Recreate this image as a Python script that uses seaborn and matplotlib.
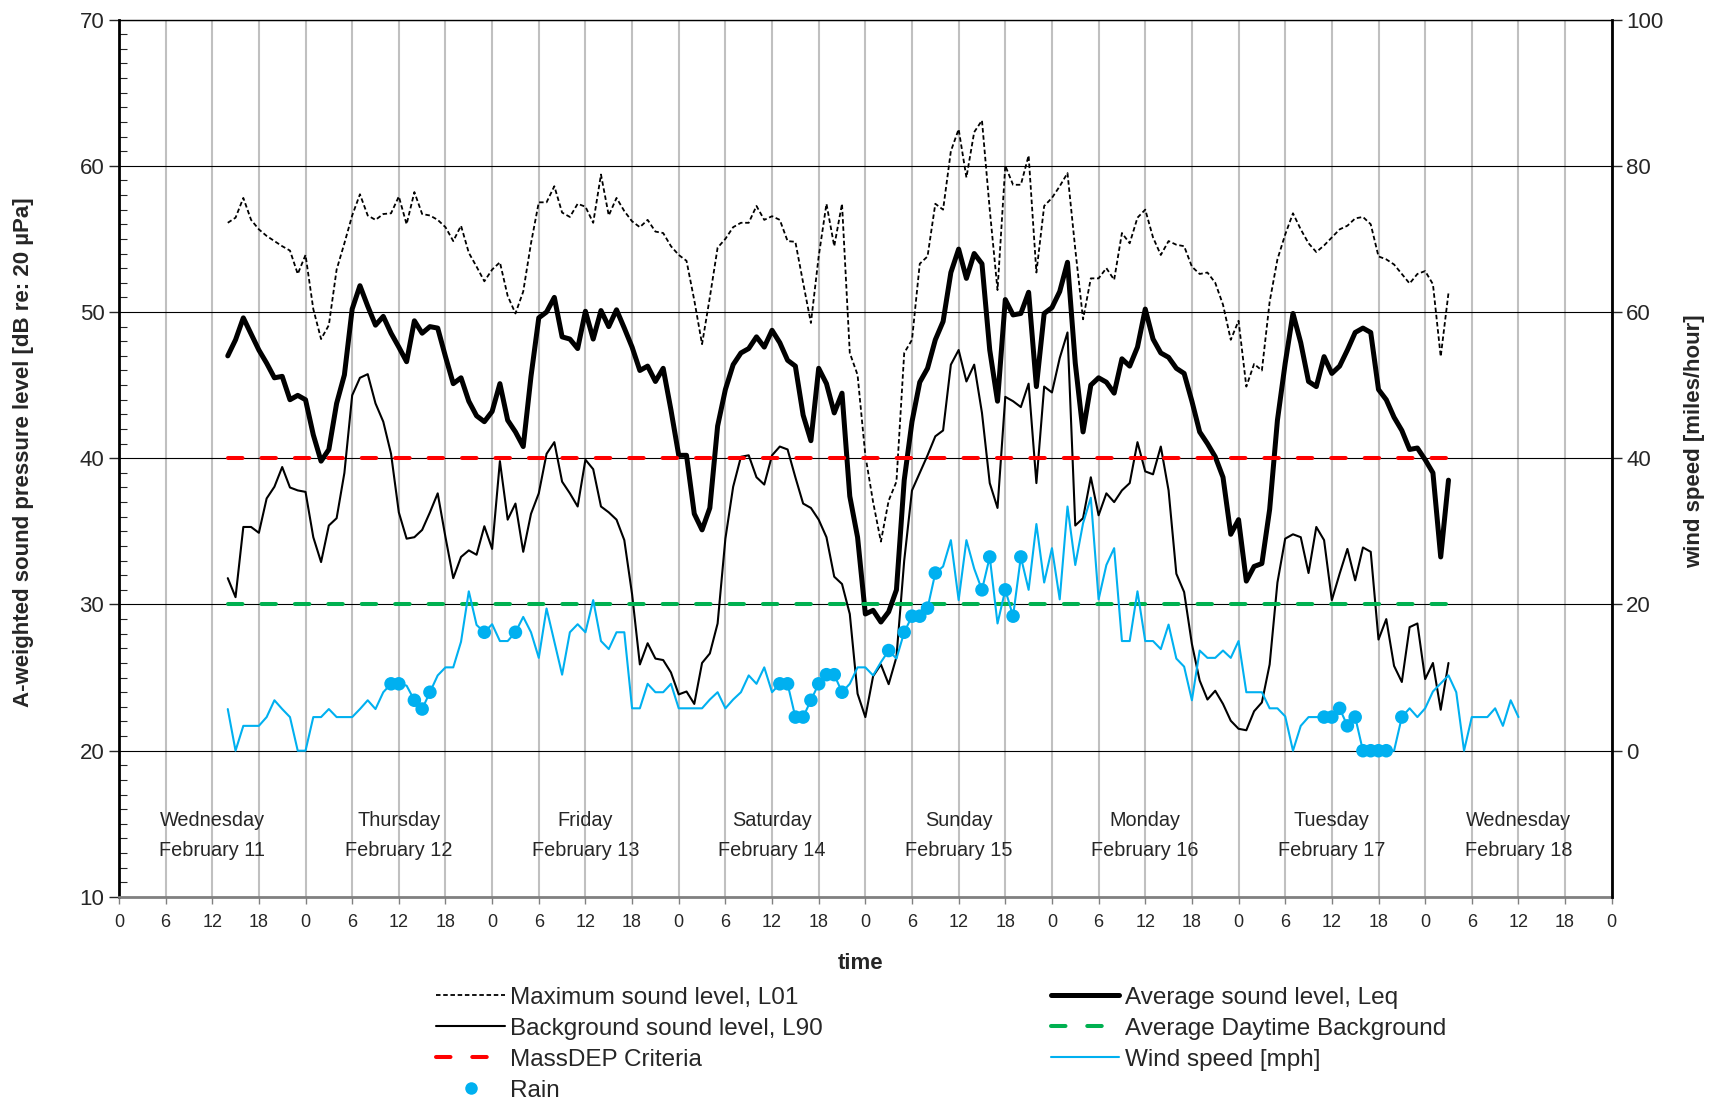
import numpy as np
import pandas as pd
import seaborn as sns
import matplotlib.pyplot as plt
from matplotlib.lines import Line2D
from matplotlib.ticker import MultipleLocator

# hour 0 = Wednesday February 11, 00:00 ; one value per hour
first_hour = 14

# Maximum sound level L01 [dBA]
l01 = [56.1, 56.45, 57.8, 56.3, 55.65, 55.2, 54.85, 54.5, 54.2, 52.6, 53.9, 50.2, 48.15, 49.1, 52.9, 54.7,
       56.6, 58.05, 56.6, 56.3, 56.7, 56.75, 57.9, 56.0, 58.2, 56.7, 56.6, 56.3, 55.8, 54.85, 55.9, 54.05,
       53.1, 52.1, 52.9, 53.4, 51.1, 49.9, 51.4, 54.7, 57.5, 57.5, 58.6, 56.8, 56.5, 57.4, 57.2, 56.1,
       59.4, 56.6, 57.8, 56.9, 56.2, 55.8, 56.3, 55.5, 55.4, 54.5, 53.9, 53.5, 50.8, 47.8, 51.0, 54.4,
       55.0, 55.8, 56.1, 56.1, 57.25, 56.3, 56.55, 56.3, 54.85, 54.8, 52.0, 49.25, 53.8, 57.4, 54.5, 57.4,
       47.2, 45.7, 40.2, 37.0, 34.3, 37.1, 38.4, 47.2, 48.1, 53.3, 53.8, 57.4, 57.0, 61.0, 62.5, 59.2,
       62.3, 63.1, 57.0, 51.5, 60.0, 58.7, 58.7, 60.7, 52.7, 57.25, 57.8, 58.6, 59.5, 54.3, 49.5, 52.3,
       52.3, 53.0, 52.2, 55.4, 54.7, 56.45, 57.0, 55.1, 53.9, 54.85, 54.6, 54.5, 53.1, 52.6, 52.7, 52.0,
       50.5, 48.1, 49.4, 44.9, 46.45, 46.0, 50.7, 53.6, 55.3, 56.75, 55.65, 54.7, 54.1, 54.55, 55.1, 55.65,
       55.9, 56.4, 56.5, 56.0, 53.8, 53.6, 53.25, 52.6, 51.95, 52.6, 52.8, 51.9, 46.95, 51.3]

# Average sound level Leq [dBA]
leq = [47.0, 48.1, 49.6, 48.5, 47.4, 46.5, 45.5, 45.6, 44.0, 44.3, 44.0, 41.6, 39.8, 40.6, 43.75, 45.7,
       50.2, 51.8, 50.4, 49.1, 49.7, 48.55, 47.6, 46.6, 49.4, 48.55, 49.0, 48.9, 46.95, 45.1, 45.5, 43.9,
       42.9, 42.5, 43.2, 45.1, 42.6, 41.8, 40.8, 45.6, 49.6, 50.0, 51.0, 48.3, 48.15, 47.5, 50.05, 48.15,
       50.1, 49.0, 50.15, 48.9, 47.6, 46.0, 46.3, 45.25, 46.15, 43.3, 40.2, 40.2, 36.2, 35.1, 36.6, 42.2,
       44.7, 46.4, 47.2, 47.5, 48.3, 47.6, 48.75, 47.9, 46.7, 46.3, 42.95, 41.2, 46.15, 45.1, 43.1, 44.45,
       37.4, 34.6, 29.35, 29.6, 28.8, 29.5, 31.0, 38.5, 42.5, 45.2, 46.15, 48.1, 49.35, 52.7, 54.3, 52.3,
       54.0, 53.3, 47.4, 43.9, 50.85, 49.8, 49.9, 51.35, 44.9, 49.9, 50.3, 51.4, 53.4, 46.5, 41.8, 45.0,
       45.5, 45.2, 44.45, 46.8, 46.3, 47.6, 50.2, 48.15, 47.2, 46.9, 46.15, 45.8, 43.9, 41.8, 41.0, 40.1,
       38.7, 34.8, 35.8, 31.6, 32.6, 32.8, 36.5, 42.6, 46.5, 49.9, 47.9, 45.25, 44.9, 46.95, 45.8, 46.3,
       47.4, 48.6, 48.9, 48.6, 44.7, 44.0, 42.8, 41.9, 40.6, 40.7, 39.9, 39.0, 33.25, 38.5]

# Background sound level L90 [dBA]
l90 = [31.8, 30.5, 35.3, 35.3, 34.9, 37.25, 38.05, 39.4, 38.0, 37.8, 37.7, 34.6, 32.9, 35.4, 35.9, 39.0,
       44.3, 45.5, 45.75, 43.75, 42.5, 40.3, 36.3, 34.5, 34.6, 35.1, 36.3, 37.6, 34.6, 31.8, 33.25, 33.7,
       33.4, 35.35, 33.8, 39.8, 35.8, 36.9, 33.6, 36.2, 37.6, 40.3, 41.1, 38.4, 37.6, 36.7, 39.9, 39.25,
       36.7, 36.3, 35.8, 34.4, 30.7, 25.9, 27.35, 26.3, 26.2, 25.35, 23.85, 24.05, 23.2, 26.0, 26.65, 28.7,
       34.5, 38.05, 40.1, 40.2, 38.7, 38.2, 40.2, 40.8, 40.6, 38.7, 36.9, 36.6, 35.8, 34.6, 31.9, 31.4,
       29.35, 23.9, 22.3, 25.1, 25.9, 24.55, 26.4, 33.0, 37.8, 39.0, 40.2, 41.5, 41.9, 46.4, 47.4, 45.25,
       46.4, 43.1, 38.3, 36.6, 44.2, 43.9, 43.5, 45.1, 38.3, 44.9, 44.5, 46.85, 48.6, 35.4, 35.9, 38.7,
       36.1, 37.6, 37.0, 37.8, 38.3, 41.1, 39.1, 38.9, 40.8, 37.8, 32.1, 30.85, 27.3, 24.8, 23.5, 24.1,
       23.2, 22.05, 21.5, 21.4, 22.7, 23.3, 25.9, 31.5, 34.5, 34.8, 34.6, 32.15, 35.3, 34.4, 30.3, 32.1,
       33.8, 31.65, 33.9, 33.6, 27.6, 29.0, 25.8, 24.7, 28.45, 28.7, 24.9, 26.0, 22.8, 26.0]

# Wind speed [mph], hours 14 .. 180
wind_mph = [5.7, 0, 3.4, 3.4, 3.4, 4.6, 6.9, 5.7, 4.6, 0, 0, 4.6, 4.6, 5.7, 4.6, 4.6,
            4.6, 5.7, 6.9, 5.7, 8.0, 9.15, 9.15, 8.9, 6.9, 5.7, 8.0, 10.3, 11.4, 11.4, 14.9, 21.8,
            17.2, 16.2, 17.3, 15.0, 15.0, 16.2, 18.3, 16.2, 12.7, 19.45, 14.9, 10.4, 16.2, 17.3, 16.2, 20.6,
            15.0, 13.9, 16.2, 16.2, 5.8, 5.8, 9.15, 8.0, 8.0, 9.15, 5.8, 5.8, 5.8, 5.8, 7.0, 8.0,
            5.8, 7.0, 8.0, 10.3, 9.15, 11.4, 8.0, 9.15, 9.15, 4.6, 4.6, 6.9, 9.15, 10.4, 10.4, 8.0,
            9.15, 11.4, 11.4, 10.3, 12.1, 13.7, 12.6, 16.2, 18.4, 18.4, 19.5, 24.3, 25.2, 28.8, 20.6, 28.8,
            24.9, 22.0, 26.5, 17.4, 22.0, 18.4, 26.5, 22.0, 31.0, 23.0, 27.7, 20.7, 33.4, 25.4, 31.1, 34.6,
            20.7, 25.4, 27.7, 15.0, 15.0, 21.8, 15.0, 15.0, 13.9, 17.25, 12.6, 11.5, 6.9, 13.7, 12.7, 12.7,
            13.7, 12.7, 15.0, 8.0, 8.0, 8.0, 5.8, 5.8, 4.7, 0, 3.4, 4.6, 4.6, 4.6, 4.6, 5.8,
            3.4, 4.6, 0, 0, 0, 0, 0, 4.6, 5.8, 4.6, 5.8, 8.1, 9.2, 10.3, 8.0, 0,
            4.6, 4.6, 4.6, 5.8, 3.4, 6.9, 4.6]

# hours with rain
rain_hours = [35, 36, 38, 39, 40, 47, 51, 85, 86, 87, 88, 89, 90, 91, 92, 93,
              99, 101, 102, 103, 104, 105, 111, 112, 114, 115, 116,
              155, 156, 157, 158, 159, 160, 161, 162, 163, 165]

massdep_criteria = 40
daytime_background = 30

day_names = ['Wednesday', 'Thursday', 'Friday', 'Saturday', 'Sunday', 'Monday', 'Tuesday', 'Wednesday']
day_dates = ['February 11', 'February 12', 'February 13', 'February 14',
             'February 15', 'February 16', 'February 17', 'February 18']

sound = pd.DataFrame({'hour': np.arange(first_hour, first_hour + len(leq)),
                      'L01': l01, 'Leq': leq, 'L90': l90})
sound['criteria'] = massdep_criteria
sound['daytime_bg'] = daytime_background
weather = pd.DataFrame({'hour': np.arange(first_hour, first_hour + len(wind_mph)), 'wind': wind_mph})
rain = weather[weather['hour'].isin(rain_hours)]

sns.set_style('white')
plt.rcParams['font.family'] = ['Liberation Sans', 'DejaVu Sans']

RED = '#ff0000'
GREEN = '#00b050'
BLUE = '#00b0f0'
l01_dash = (0, (2.5, 1.5))
crit_dash = (0, (3.6, 4.7))

fig = plt.figure(figsize=(17.11, 11.03), dpi=100)
ax = fig.add_axes([0.0695, 0.1868, 0.8725, 0.7955])
ax2 = ax.twinx()

sns.lineplot(data=sound, x='hour', y='L01', ax=ax, color='black', lw=1.3, linestyle=l01_dash)
sns.lineplot(data=sound, x='hour', y='L90', ax=ax, color='black', lw=1.5)
sns.lineplot(data=sound, x='hour', y='Leq', ax=ax, color='black', lw=3.6)
sns.lineplot(data=sound, x='hour', y='criteria', ax=ax, color=RED, lw=2.9,
             linestyle=crit_dash, dash_capstyle='round')
sns.lineplot(data=sound, x='hour', y='daytime_bg', ax=ax, color=GREEN, lw=2.9,
             linestyle=crit_dash, dash_capstyle='round')
sns.lineplot(data=weather, x='hour', y='wind', ax=ax2, color=BLUE, lw=1.5)
sns.scatterplot(data=rain, x='hour', y='wind', ax=ax2, color=BLUE, s=95, edgecolor='none', zorder=5)

# axes limits / ticks
ax.set_xlim(0, 192)
ax.set_ylim(10, 70)
ax2.set_ylim(-20, 100)
ax.set_xticks(np.arange(0, 193, 6))
ax.set_xticklabels([str(h % 24) for h in range(0, 193, 6)], fontsize=13)
ax.set_yticks(np.arange(10, 71, 10))
ax.tick_params(axis='y', labelsize=16, left=True, length=7, width=1, direction='out')
ax.yaxis.set_minor_locator(MultipleLocator(1))
ax.tick_params(axis='y', which='minor', left=True, length=6, width=0.8, direction='in')
ax.tick_params(axis='x', bottom=True, length=5, width=1, color='#808080', pad=7)
ax2.set_yticks(np.arange(0, 101, 20))
ax2.tick_params(axis='y', labelsize=16, right=True, length=7, width=1, direction='out')
ax.set_xlabel('')
ax.set_ylabel('')
ax2.set_ylabel('')

ax.set_axisbelow(True)
ax.grid(axis='x', color='#c0c0c0', lw=1.5)
ax.grid(axis='y', color='black', lw=0.8)

for s in ['left', 'top', 'right']:
    ax.spines[s].set_color('black')
ax.spines['left'].set_linewidth(2)
ax.spines['top'].set_linewidth(1)
ax.spines['bottom'].set_color('#808080')
ax.spines['bottom'].set_linewidth(2)
ax2.spines['right'].set_linewidth(2)
ax2.spines['right'].set_color('black')
for s in ['left', 'top', 'bottom']:
    ax2.spines[s].set_visible(False)

for i, (name, date) in enumerate(zip(day_names, day_dates)):
    ax.text(12 + 24 * i, 15.25, name, ha='center', va='center', fontsize=14.3)
    ax.text(12 + 24 * i, 13.15, date, ha='center', va='center', fontsize=14.3)

fig.text(0.0135, 0.59, 'A-weighted sound pressure level [dB re: 20 µPa]', rotation=90,
         ha='center', va='center', fontsize=16, fontweight='bold')
fig.text(0.9904, 0.60, 'wind speed [miles/hour]', rotation=90,
         ha='center', va='center', fontsize=16, fontweight='bold')
fig.text(0.503, 0.1265, 'time', ha='center', va='center', fontsize=16, fontweight='bold')

# legend, two columns
left_handles = [
    Line2D([], [], color='black', lw=1.3, linestyle=l01_dash),
    Line2D([], [], color='black', lw=1.5),
    Line2D([], [], color=RED, lw=2.9, linestyle=(0, (3.6, 5.4)), dash_capstyle='round'),
    Line2D([], [], color=BLUE, marker='o', markersize=9, markeredgewidth=0, linestyle='None'),
]
left_labels = ['Maximum sound level, L01', 'Background sound level, L90', 'MassDEP Criteria', 'Rain']
right_handles = [
    Line2D([], [], color='black', lw=3.6),
    Line2D([], [], color=GREEN, lw=2.9, linestyle=(0, (3.6, 5.4)), dash_capstyle='round'),
    Line2D([], [], color=BLUE, lw=1.5),
]
right_labels = ['Average sound level, Leq', 'Average Daytime Background', 'Wind speed [mph]']
leg_kw = dict(loc='upper left', frameon=False, fontsize=17.5, handlelength=2.8, handletextpad=0.23,
              labelspacing=0.37, borderpad=0, borderaxespad=0)
fig.legend(left_handles, left_labels, bbox_to_anchor=(0.2551, 0.1055), **leg_kw)
fig.legend(right_handles, right_labels, bbox_to_anchor=(0.6142, 0.1055), **leg_kw)

fig.savefig('out.png', dpi=100)
